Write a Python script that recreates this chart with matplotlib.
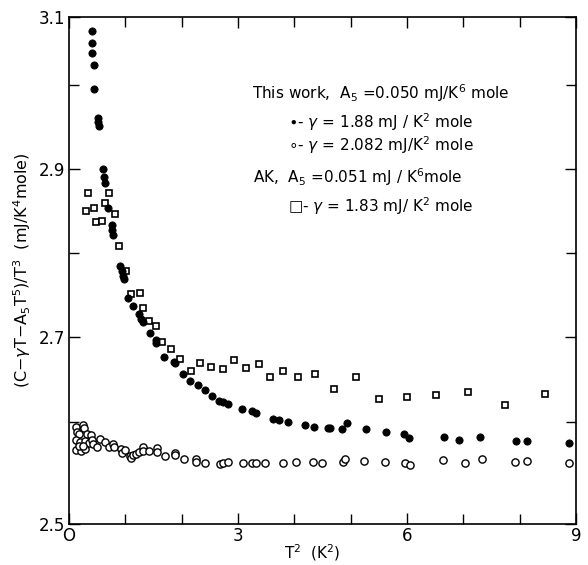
import numpy as np
import matplotlib
matplotlib.use("Agg")
import matplotlib.pyplot as plt

# ---------------- data (T^2 in K^2, value in mJ/K^4 mole) ----------------
filled_x = [0.403, 0.414, 0.408, 0.438, 0.449, 0.510, 0.520, 0.538, 0.609, 0.627,
            0.644, 0.701, 0.769, 0.772, 0.778, 0.898, 0.932, 0.957, 0.976, 1.051,
            1.136, 1.237, 1.284, 1.308, 1.433, 1.544, 1.544, 1.692, 1.869, 1.882,
            2.029, 2.148, 2.290, 2.414, 2.539, 2.668, 2.739, 2.828, 3.066, 3.243,
            3.320, 3.620, 3.730, 3.890, 4.190, 4.350, 4.598, 4.640, 4.850, 4.930,
            5.270, 5.630, 5.950, 6.040, 6.660, 6.930, 7.300, 7.940, 8.130, 8.880]
filled_y = [3.079, 3.062, 3.047, 3.029, 2.995, 2.961, 2.956, 2.951, 2.900, 2.890,
            2.883, 2.854, 2.833, 2.827, 2.822, 2.785, 2.779, 2.773, 2.769, 2.746,
            2.737, 2.727, 2.721, 2.718, 2.705, 2.697, 2.693, 2.676, 2.671, 2.669,
            2.656, 2.648, 2.643, 2.638, 2.631, 2.625, 2.624, 2.621, 2.615, 2.613,
            2.610, 2.604, 2.602, 2.600, 2.597, 2.595, 2.594, 2.594, 2.593, 2.599,
            2.593, 2.590, 2.588, 2.584, 2.585, 2.582, 2.585, 2.581, 2.581, 2.579]

open_x = [0.124, 0.254, 0.272, 0.147, 0.178, 0.314, 0.391, 0.124, 0.195, 0.284,
          0.355, 0.403, 0.124, 0.208, 0.284, 0.178, 0.254, 0.431, 0.491, 0.550,
          0.639, 0.715, 0.786, 0.804, 0.923, 0.941, 0.994, 1.083, 1.095, 1.141,
          1.189, 1.248, 1.319, 1.319, 1.426, 1.557, 1.557, 1.710, 1.882, 1.882,
          2.042, 2.255, 2.255, 2.409, 2.681, 2.739, 2.817, 3.084, 3.249, 3.320,
          3.480, 3.800, 4.030, 4.330, 4.490, 4.860, 4.900, 5.240, 5.610, 5.960,
          6.050, 6.640, 7.030, 7.330, 7.920, 8.130, 8.880]
open_y = [2.5948, 2.5971, 2.5938, 2.5905, 2.5879, 2.5879, 2.5873, 2.5824, 2.5807, 2.5817,
          2.5797, 2.5824, 2.5725, 2.5716, 2.5732, 2.5765, 2.5765, 2.5781, 2.5752, 2.5833,
          2.5807, 2.5758, 2.5784, 2.5758, 2.5732, 2.5693, 2.5725, 2.5667, 2.5650, 2.5676,
          2.5686, 2.5703, 2.5752, 2.5719, 2.5719, 2.5742, 2.5703, 2.5667, 2.5699, 2.5676,
          2.5640, 2.5637, 2.5608, 2.5601, 2.5585, 2.5595, 2.5611, 2.5595, 2.5601, 2.5595,
          2.5598, 2.5600, 2.5610, 2.5610, 2.5600, 2.5610, 2.5637, 2.5620, 2.5610, 2.5600,
          2.5580, 2.5627, 2.5600, 2.5637, 2.5610, 2.5618, 2.5600]

ak_x = [0.341, 0.714, 0.293, 0.435, 0.634, 0.476, 0.591, 0.808, 0.893, 1.012,
        1.104, 1.257, 1.319, 1.415, 1.544, 1.646, 1.811, 1.971, 2.166, 2.320,
        2.521, 2.739, 2.934, 3.142, 3.373, 3.568, 3.804, 4.071, 4.358, 4.710,
        5.091, 5.503, 5.995, 6.515, 7.089, 7.746, 8.450]
ak_y = [2.872, 2.872, 2.850, 2.854, 2.860, 2.837, 2.838, 2.846, 2.808, 2.779,
        2.751, 2.752, 2.735, 2.719, 2.713, 2.694, 2.686, 2.674, 2.660, 2.669,
        2.665, 2.662, 2.673, 2.663, 2.668, 2.653, 2.660, 2.653, 2.656, 2.639,
        2.653, 2.627, 2.629, 2.632, 2.635, 2.620, 2.633]

x_major = [0, 3, 6, 9]
x_minor = [1, 2, 4, 5, 7, 8]
y_major = [2.5, 2.7, 2.9, 3.1]
y_minor = [2.6, 2.8, 3.0]

# ---------------- hand-drawn y axis (tick spacing as in the original) ----------------
_vals = np.array([2.5, 2.6, 2.7, 2.8, 2.9, 3.0, 3.1])
_pos = np.array([0.0, 0.2012, 0.3688, 0.5345, 0.7002, 0.8659, 1.0])
_vals_e = np.concatenate([[-100.0], _vals, [100.0]])
_pos_e = np.concatenate([[-102.5 / 0.6], _pos, [1 + 96.9 / 0.6]])

def _fwd(v):
    return np.interp(np.asarray(v, float), _vals_e, _pos_e)

def _inv(p):
    return np.interp(np.asarray(p, float), _pos_e, _vals_e)

plt.rcParams['font.family'] = ['DejaVu Sans']
plt.rcParams['mathtext.fontset'] = 'dejavusans'

fig = plt.figure(figsize=(5.88, 5.65), dpi=100)
ax = fig.add_axes([69 / 588, 1 - 524 / 565, (576 - 69) / 588, (524 - 17) / 565])
ax.set_yscale('function', functions=(_fwd, _inv))

ms = 5.2
ax.plot(ak_x, ak_y, linestyle='none', marker='s', ms=4.6, mfc='white', mec='black', mew=1.2)
ax.plot(open_x, open_y, linestyle='none', marker='o', ms=ms, mfc='white', mec='black', mew=1.0)
ax.plot(filled_x, filled_y, linestyle='none', marker='o', ms=ms, mfc='black', mec='black', mew=0.6)

ax.set_xlim(0, 9)
ax.set_ylim(2.5, 3.1)
ax.set_xticks(x_major)
ax.set_xticks(x_minor, minor=True)
ax.set_yticks(y_major)
ax.set_yticks(y_minor, minor=True)
ax.set_xticklabels(['O', '3', '6', '9'], fontsize=12)
ax.set_yticklabels(['2.5', '2.7', '2.9', '3.1'], fontsize=12)
ax.tick_params(which='both', direction='in', top=True, right=True, width=1.0)
ax.tick_params(axis='x', which='both', pad=2)
ax.tick_params(axis='y', which='both', pad=3)
ax.tick_params(which='major', length=8)
ax.tick_params(which='minor', length=7)
for s in ax.spines.values():
    s.set_linewidth(1.2)

ax.set_xlabel(r'T$^2$  (K$^2$)', fontsize=11)
ax.xaxis.set_label_coords(0.48, -0.037)
ax.xaxis.label.set_va('top')
ax.set_ylabel(r'(C$-\gamma$T$-$A$_5$T$^5$)/T$^3$  (mJ/K$^4$mole)', fontsize=11.5, labelpad=4)

fs = 11
fig.text(252 / 588, 1 - 93 / 565, r'This work,  A$_5$ =0.050 mJ/K$^6$ mole', fontsize=fs, va='center')
fig.text(288 / 588, 1 - 122 / 565, r'$\bullet$- $\gamma$ = 1.88 mJ / K$^2$ mole', fontsize=fs, va='center')
fig.text(288 / 588, 1 - 145 / 565, r'$\circ$- $\gamma$ = 2.082 mJ/K$^2$ mole', fontsize=fs, va='center')
fig.text(253 / 588, 1 - 177 / 565, r'AK,  A$_5$ =0.051 mJ / K$^6$mole', fontsize=fs, va='center')
fig.text(288 / 588, 1 - 206 / 565, u'\u25a1' + r'- $\gamma$ = 1.83 mJ/ K$^2$ mole', fontsize=fs, va='center')

fig.savefig('out.png', dpi=100)
